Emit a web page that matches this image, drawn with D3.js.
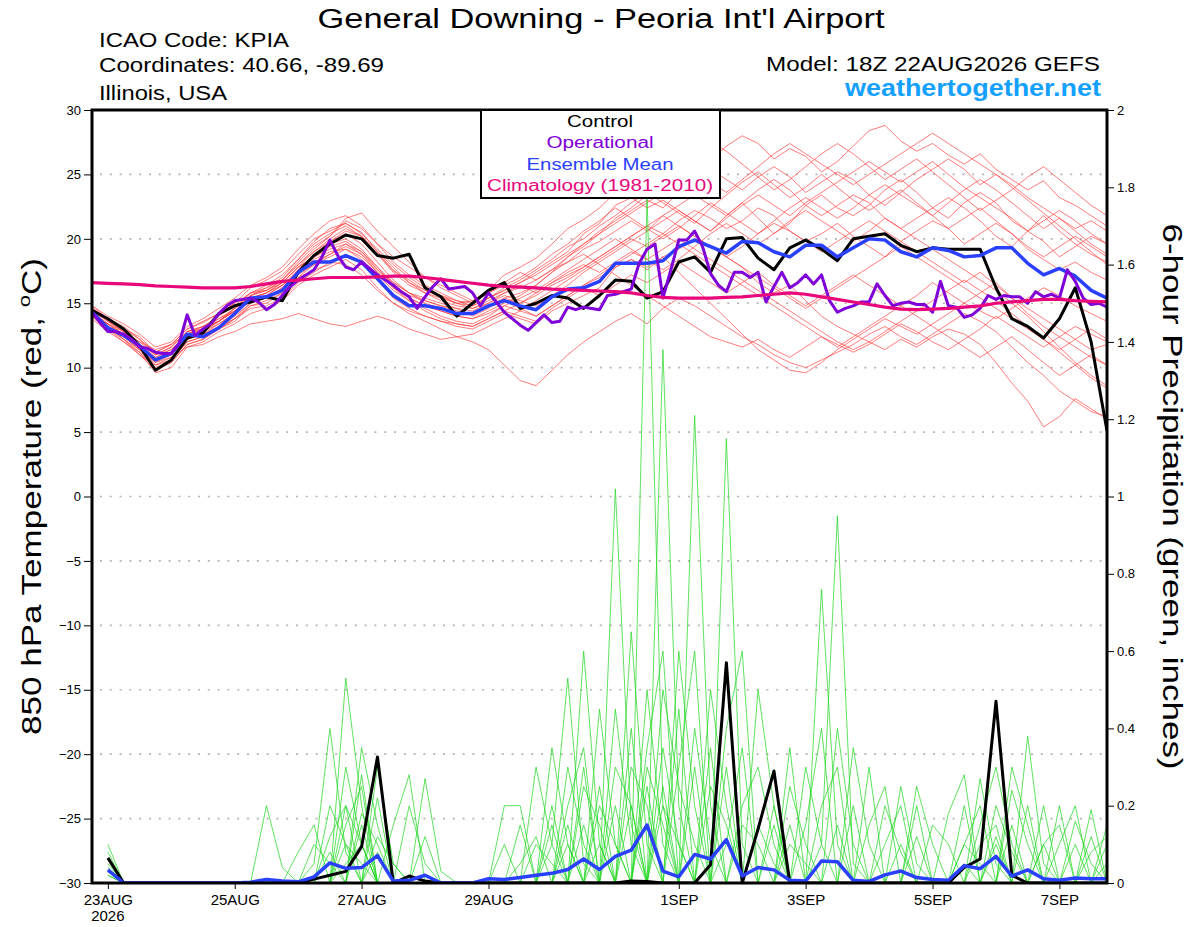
<!DOCTYPE html>
<html>
<head>
<meta charset="utf-8">
<script src="https://cdn.jsdelivr.net/npm/d3@7"></script>
<style>
  body { margin: 0; background: #fff; }
  svg text { font-family: "Liberation Sans", Arial, Helvetica, sans-serif; }
</style>
</head>
<body>
<svg id="chart" width="1200" height="927"></svg>
<script>
// ---- data ----
// run start 18Z 22AUG2026, members every 6 h, operational every 3 h, 384 h total
const runStart = Date.UTC(2026, 7, 22, 18);
const stepHours = 6;
const opStepHours = 3;
const forecastHours = 384;

const tempTicks = [-30, -25, -20, -15, -10, -5, 0, 5, 10, 15, 20, 25, 30];
const precipTicks = [0, 0.2, 0.4, 0.6, 0.8, 1, 1.2, 1.4, 1.6, 1.8, 2];
const dateTicks = ["2026-08-23", "2026-08-25", "2026-08-27", "2026-08-29",
                   "2026-09-01", "2026-09-03", "2026-09-05", "2026-09-07"];

const legendItems = ["Control", "Operational", "Ensemble Mean", "Climatology (1981-2010)"];

// 850 hPa temperature, control (black)
const controlTemp = [
  14.45,13.8,13.0,11.7,9.8,10.6,12.3,12.7,14.2,14.8,15.1,15.5,15.2,
  17.4,18.7,19.6,20.3,20.0,18.7,18.5,18.8,16.2,15.5,14.0,15.0,16.0,
  16.6,14.6,15.0,15.6,15.4,14.6,15.6,16.8,16.7,15.4,15.9,18.2,18.6,
  17.4,20.0,20.1,18.5,17.6,19.3,19.9,19.2,18.3,20.0,20.2,20.4,19.5,
  19.0,19.3,19.2,19.2,19.2,16.2,13.8,13.2,12.3,13.8,16.2,12.0,5.1
];
// ensemble mean (blue)
const meanTemp = [
  14.3,13.1,12.5,11.7,10.6,11.1,12.6,12.4,13.1,14.2,15.4,15.5,16.0,
  17.4,18.2,18.2,18.7,18.2,16.9,15.6,14.8,14.8,14.6,14.2,14.2,14.8,
  15.2,14.8,14.5,15.5,16.1,16.2,16.7,18.1,18.1,18.1,18.3,19.4,19.9,
  19.4,18.9,19.8,19.7,19.0,18.6,19.5,19.5,18.6,19.3,20.0,19.9,19.0,
  18.6,19.3,19.1,18.6,18.7,19.3,19.3,18.1,17.2,17.7,17.1,16.0,15.4
];
// operational (purple), 3-hourly
const operTemp = [
  14.3,13.5,12.8,12.8,12.6,12.2,11.6,11.5,11.2,11.1,11.1,11.9,14.1,
  12.5,13.0,13.4,14.2,14.8,15.2,15.3,15.4,15.1,14.5,14.9,15.6,16.3,
  16.8,17.2,17.6,18.6,19.9,18.7,17.8,17.6,18.2,17.7,17.2,16.8,16.4,
  15.9,15.5,14.6,15.5,16.3,16.9,16.1,16.2,16.3,15.8,14.8,15.8,15.1,
  14.3,13.8,13.3,12.9,13.5,14.1,13.5,13.6,14.7,14.5,14.7,14.6,14.5,
  15.6,15.7,15.9,16.1,18.1,19.2,19.6,15.4,17.6,19.9,19.9,20.6,19.4,
  17.3,16.4,15.9,17.4,17.4,17.0,17.4,15.1,16.3,17.4,16.2,16.6,17.2,
  16.5,17.2,15.2,14.3,14.6,14.8,15.1,15.1,16.5,15.6,14.8,15.0,15.1,
  14.9,14.9,14.3,16.7,14.8,14.7,13.9,14.1,14.6,15.6,15.3,15.6,15.5,
  15.5,15.0,15.9,15.5,15.7,15.4,17.6,16.7,15.4,14.9,15.0,14.7
];
// climatology 1981-2010 (magenta)
const climTemp = [
  16.6,16.55,16.5,16.45,16.35,16.3,16.25,16.2,16.2,16.2,16.3,16.5,16.7,
  16.8,16.9,17.0,17.0,17.0,17.05,17.1,17.1,17.0,16.85,16.7,16.55,16.4,
  16.3,16.25,16.2,16.1,16.05,16.0,15.95,15.9,15.8,15.6,15.45,15.4,15.4,
  15.4,15.45,15.5,15.6,15.7,15.8,15.7,15.5,15.3,15.1,14.9,14.7,14.55,
  14.5,14.55,14.6,14.7,14.8,15.0,15.1,15.2,15.3,15.3,15.2,15.15,15.1
];

// ensemble members, 850 hPa temperature (red)
const tempMembers = [
  [14.6,13.8,13.0,12.4,11.2,11.8,13.0,13.5,14.2,15.0,16.2,16.8,17.5,
   18.8,20.0,20.6,21.2,20.5,19.0,17.5,16.8,16.0,15.5,15.0,15.2,16.0,
   17.2,17.8,18.5,19.6,20.8,21.5,22.4,23.6,24.2,25.0,24.4,25.6,26.8,
   26.0,27.2,28.0,27.4,26.2,27.0,26.4,25.2,26.0,27.2,28.4,28.8,27.6,
   26.8,27.4,26.5,25.8,26.6,25.4,24.6,23.8,24.5,23.2,22.6,21.8,21.0],
  [14.2,13.0,12.2,11.0,9.8,10.4,11.8,12.2,13.0,13.6,14.8,15.0,15.8,
   17.0,17.6,18.0,18.8,18.2,16.8,15.4,14.6,14.0,13.6,13.2,13.0,13.6,
   14.2,13.8,13.4,14.4,15.0,15.6,16.2,17.8,18.4,17.6,18.6,19.2,20.0,
   19.4,18.6,17.8,16.6,15.8,16.4,15.2,14.0,13.2,12.6,12.0,11.4,12.2,
   11.6,12.4,13.0,12.6,11.8,10.4,8.8,7.4,5.4,6.2,7.6,6.8,6.0],
  [14.0,13.4,12.6,11.8,10.8,11.2,12.8,13.2,13.6,14.6,15.6,16.2,16.8,
   18.0,19.2,20.2,21.6,22.0,20.6,19.4,18.2,17.0,16.2,15.6,15.0,15.4,
   16.0,16.6,17.4,18.2,19.0,20.4,21.2,22.6,23.2,22.4,23.0,22.2,21.4,
   20.6,21.8,22.8,21.6,20.4,21.2,22.6,23.4,22.4,21.8,22.6,23.8,24.6,
   23.6,22.4,21.6,22.8,23.6,22.8,21.4,20.6,19.8,18.6,19.4,20.2,19.6],
  [14.4,13.2,12.2,11.2,9.6,10.0,11.6,12.0,12.8,13.4,14.2,14.6,15.2,
   16.4,17.2,17.8,18.4,17.6,16.2,15.0,14.2,13.6,13.0,12.4,12.0,11.4,
   10.2,9.0,8.6,9.8,11.0,12.0,12.8,13.6,14.2,13.4,14.6,15.4,14.8,
   14.0,13.2,12.4,11.8,11.0,10.4,10.0,10.6,11.2,11.8,12.6,13.2,12.4,
   11.8,12.6,13.4,14.2,13.6,12.8,11.6,10.4,9.4,8.2,7.4,6.6,6.2],
  [14.6,13.6,12.8,12.0,11.4,11.8,12.6,13.0,13.8,14.4,15.6,16.0,16.6,
   17.8,18.6,19.4,19.8,19.0,17.6,16.4,15.6,15.2,14.8,14.6,14.0,14.6,
   15.4,15.0,15.8,16.6,17.2,17.8,18.6,19.4,20.2,21.0,20.4,21.4,22.2,
   21.6,20.8,21.4,22.4,21.8,20.6,19.8,20.4,21.2,20.2,19.4,18.6,19.8,
   20.6,21.4,20.8,19.6,20.4,21.2,20.4,19.2,18.4,17.6,18.2,17.4,16.8],
  [13.8,12.8,12.0,11.0,10.2,10.8,12.2,12.6,13.2,13.8,15.0,15.6,16.4,
   17.6,18.8,19.8,20.6,20.2,19.0,17.8,16.6,15.8,15.2,14.8,14.6,15.2,
   15.8,16.2,16.8,17.6,18.2,19.2,19.8,20.6,21.4,20.6,21.8,22.6,23.4,
   22.6,21.8,22.8,23.8,24.6,23.8,22.6,21.8,22.6,23.4,22.8,21.6,20.8,
   21.6,22.4,23.2,22.4,21.4,20.2,19.4,20.6,21.8,20.6,19.6,18.8,18.2],
  [14.2,13.4,12.4,11.6,10.6,11.2,12.4,12.8,13.4,14.2,15.2,15.4,16.2,
   17.2,18.0,18.8,19.6,18.8,17.4,16.2,15.4,14.8,14.4,14.0,13.8,14.2,
   14.8,14.4,14.0,14.8,15.6,16.4,17.0,17.8,18.4,17.8,18.6,17.4,16.2,
   15.0,13.8,12.6,11.4,10.6,9.8,9.6,10.4,11.4,12.2,13.0,13.8,13.2,
   12.6,13.4,14.2,15.0,14.4,13.8,14.6,15.4,16.2,15.6,14.8,14.2,13.6],
  [14.8,14.0,13.4,12.6,11.6,12.0,13.2,13.8,14.6,15.4,16.4,17.0,17.8,
   19.2,20.4,21.4,21.8,21.0,19.6,18.2,17.2,16.4,15.8,15.2,15.0,15.8,
   16.6,17.4,16.8,17.6,18.6,19.6,20.6,21.4,22.2,23.0,22.4,23.6,24.6,
   25.4,24.6,23.8,24.8,25.6,24.8,23.6,24.4,25.2,24.6,23.4,22.6,23.6,
   24.6,25.4,26.2,25.4,24.2,25.0,24.2,23.2,22.4,21.6,20.8,21.4,20.6],
  [14.0,13.0,12.0,11.2,10.0,10.6,12.0,12.4,13.0,13.8,14.6,14.8,15.4,
   16.6,17.4,18.2,18.0,17.2,16.0,15.0,14.4,14.0,13.6,13.4,13.2,13.8,
   14.4,14.0,13.6,14.6,15.4,16.2,15.6,16.4,17.2,16.6,17.4,18.2,17.4,
   16.6,15.8,16.6,17.4,16.4,15.6,14.8,15.6,16.4,17.2,16.4,15.6,14.8,
   15.6,16.6,15.8,15.0,15.8,16.6,15.4,14.2,13.2,12.4,11.6,10.8,10.2],
  [14.4,13.6,12.8,12.0,11.0,11.4,12.6,13.0,13.6,14.6,15.6,16.0,16.8,
   18.0,19.0,19.8,20.4,19.6,18.2,16.8,15.8,15.0,14.6,14.2,14.2,14.8,
   15.4,15.8,16.4,17.4,18.2,18.8,18.0,17.2,16.4,15.6,14.8,14.0,13.2,
   12.4,12.0,11.6,12.2,11.4,10.8,11.6,12.4,11.8,11.2,11.8,12.6,13.4,
   12.8,12.0,11.4,12.2,13.0,14.0,13.2,12.4,11.6,12.4,13.2,12.6,12.0],
  [14.2,13.2,12.6,11.8,11.0,11.6,12.8,13.2,14.0,14.8,15.8,16.4,17.2,
   18.4,19.6,20.4,21.0,20.2,18.8,17.4,16.4,15.8,15.4,15.0,14.8,15.4,
   16.2,16.8,17.6,18.4,19.4,20.0,21.0,21.8,22.8,23.6,22.8,22.0,21.2,
   22.4,23.4,24.4,25.2,24.2,23.2,24.0,25.0,24.0,23.0,22.2,23.0,23.8,
   22.8,21.8,20.8,21.6,22.4,21.4,20.4,19.4,18.6,19.4,20.2,19.4,18.6],
  [14.0,13.0,12.4,11.4,10.4,10.8,11.6,11.8,12.4,12.8,13.4,13.6,13.8,
   14.2,13.8,13.4,13.2,13.6,14.0,13.6,13.0,12.6,12.2,12.4,12.6,13.2,
   13.8,14.4,15.2,16.0,16.8,17.6,18.4,19.2,20.0,19.4,20.2,21.0,20.2,
   19.4,18.6,19.4,20.4,21.2,20.6,19.8,19.0,19.8,20.6,21.4,20.6,19.8,
   19.0,18.2,17.4,16.6,17.4,16.4,15.4,14.6,13.8,13.0,12.2,11.4,11.8],
  [14.6,13.8,13.2,12.2,11.0,11.6,12.8,13.0,13.6,14.4,15.4,15.8,16.6,
   17.8,18.6,19.2,19.6,19.0,17.8,16.6,15.8,15.4,15.0,14.6,14.4,15.0,
   15.6,15.2,14.8,15.6,16.4,17.4,18.2,19.0,19.8,20.6,21.4,22.2,21.4,
   20.6,21.6,22.6,23.4,22.6,21.8,22.8,23.6,24.4,25.2,26.0,25.2,24.4,
   25.2,26.0,25.0,24.0,23.2,22.4,21.6,20.6,21.4,22.2,21.4,20.4,19.6],
  [14.2,13.4,12.8,11.8,10.8,11.4,12.6,13.2,13.8,14.6,15.8,16.2,17.0,
   18.4,19.8,20.8,21.2,20.4,19.2,18.0,17.0,16.2,15.6,15.0,14.6,15.0,
   15.8,16.4,15.8,16.6,17.4,18.0,17.4,18.2,19.0,18.4,19.2,20.0,19.2,
   18.4,17.6,16.8,16.0,15.2,14.4,13.6,12.8,12.0,11.4,12.0,12.8,13.6,
   14.4,15.2,16.0,16.8,16.0,15.2,14.2,13.2,12.2,11.2,10.2,9.2,8.4],
  [14.4,13.4,12.6,11.6,10.2,10.6,12.0,12.4,13.2,14.0,15.0,15.4,16.2,
   17.6,18.8,19.6,20.0,19.2,17.8,16.4,15.4,14.8,14.4,14.0,13.8,14.4,
   15.0,15.6,16.4,17.4,18.6,19.4,20.4,21.6,22.4,23.4,24.4,25.4,26.6,
   27.6,26.8,25.8,24.8,23.8,24.6,25.6,26.6,27.4,26.6,25.6,24.6,25.4,
   26.2,25.2,24.2,23.2,22.2,23.0,23.8,24.8,25.6,24.6,23.6,22.6,21.8],
  [14.0,13.2,12.2,11.4,9.8,10.4,11.8,12.2,13.0,13.8,14.8,15.2,15.8,
   17.0,18.0,18.6,19.2,18.4,17.2,16.0,15.2,14.6,14.0,13.6,13.4,14.0,
   14.8,15.4,16.0,16.8,17.6,18.4,19.2,20.0,19.2,18.4,17.6,18.4,19.4,
   20.4,21.2,20.4,19.6,20.4,21.4,22.2,21.4,20.6,19.8,20.6,21.6,20.8,
   20.0,19.2,18.4,17.6,16.8,16.0,15.0,14.0,12.8,11.6,10.4,9.4,8.6],
  [14.8,13.8,13.0,12.2,11.2,11.8,13.0,13.6,14.2,15.0,15.8,16.0,16.8,
   18.2,19.4,20.2,21.4,20.8,19.6,18.6,17.8,17.0,16.4,15.8,15.2,15.8,
   16.4,17.0,17.8,18.8,19.6,20.6,21.4,22.4,21.6,20.8,20.0,20.8,21.8,
   22.8,22.0,21.2,20.4,21.4,22.4,23.2,22.4,21.6,22.4,23.4,24.2,23.4,
   22.6,21.8,22.8,23.8,24.6,23.8,22.8,21.8,20.8,21.6,20.6,19.6,18.8],
  [14.2,13.0,12.4,11.4,10.6,11.0,12.2,12.6,13.4,14.2,15.2,15.6,16.4,
   17.4,18.2,18.8,19.4,18.8,17.6,16.6,15.8,15.2,14.8,14.4,14.2,14.8,
   15.2,14.6,14.0,14.8,15.6,16.4,17.2,18.0,18.8,19.6,20.4,19.6,18.8,
   18.0,17.2,16.4,15.6,14.8,14.0,13.2,12.4,11.6,12.4,13.2,14.0,14.8,
   14.0,13.2,12.4,11.6,10.8,11.6,12.4,11.4,10.4,9.4,10.2,11.0,10.2],
  [14.6,13.6,12.8,11.8,10.6,11.0,12.4,12.8,13.6,14.4,15.4,15.8,16.6,
   17.8,19.0,20.0,20.8,20.2,18.8,17.6,16.6,16.0,15.6,15.2,14.8,15.4,
   16.0,16.6,17.2,18.0,18.8,19.6,20.4,21.2,22.0,22.8,23.6,24.4,25.2,
   24.4,23.6,24.6,25.6,26.6,27.4,26.6,25.8,25.0,24.2,25.0,25.8,26.6,
   27.4,28.2,27.4,26.6,25.8,25.0,24.0,23.0,22.0,21.0,20.0,19.0,18.0],
  [14.0,13.2,12.4,11.6,10.4,11.0,12.2,12.8,13.6,14.4,15.4,15.8,16.4,
   17.4,18.4,19.0,19.2,18.6,17.4,16.2,15.2,14.4,13.8,13.4,13.2,13.8,
   14.4,15.0,15.6,16.4,17.0,17.8,18.6,19.4,20.2,21.0,21.8,21.0,20.2,
   19.4,18.6,17.8,17.0,16.2,15.4,14.6,15.4,16.2,17.0,17.8,18.6,19.4,
   18.6,17.8,17.0,16.2,15.4,14.6,13.8,13.0,12.2,11.4,12.2,13.0,12.2]
];

// 6-hour precipitation (inches), valid from +6 h to +384 h
const controlPrecip = [
  .065,0,0,0,0,0,0,0,  0,0,0,0,0,.01,.02,.03,
  .094,.326,0,.018,.005,0,0,0,  0,0,0,0,0,0,0,0,
  0,.005,.004,0,0,0,.047,.57,  0,.14,.29,0,0,0,0,0,
  0,0,0,0,0,0,.04,.062,  .47,.02,0,0,0,0,0,0
];
const meanPrecip = [
  .034,0,0,0,0,0,0,0,  0,.002,.009,.005,.003,.016,.052,.038,
  .04,.071,.005,.007,.02,0,0,0,  .011,.009,.014,.02,.025,.035,.062,.035,
  .069,.085,.15,.031,.016,.074,.062,.112,  .018,.04,.034,.007,.005,.057,.055,.007,
  .004,.021,.031,.014,.009,.007,.045,.037,  .069,.018,.034,.011,.007,.013,.011,.011
];
const precipMembers = [
  [.03,0,0,0,0,0,0,0, 0,0,0,0,0,.05,.4,.08, 0,0,0,0,0,0,0,0, 0,0,0,0,.1,.53,.05,0,
   0,0,1.78,.2,0,0,0,0, 0,.15,.05,0,0,0,0,0, 0,0,0,0,0,0,.1,.05, 0,0,0,0,0,0,0,0],
  [.08,0,0,0,0,0,0,0, 0,0,0,0,0,0,0,.53, .2,0,0,0,0,0,0,0, 0,0,.05,.12,0,0,0,0,
   1.02,.15,0,0,0,0,0,.1, .35,0,0,0,0,0,0,0, 0,.2,.08,0,0,0,0,0, .12,0,0,0,0,0,0,0],
  [.05,0,0,0,0,0,0,0, 0,0,.2,.04,0,0,0,0, 0,.3,.05,0,0,0,0,0, 0,0,0,0,0,0,.6,.1,
   0,0,0,0,0,1.21,.2,0, 0,0,0,0,0,.1,.95,.05, 0,0,0,0,0,0,0,0, 0,0,.38,.05,0,0,0,0],
  [.1,0,0,0,0,0,0,0, 0,0,0,0,0,0,0,.15, .25,0,0,0,.27,.03,0,0, 0,0,0,0,0,0,0,0,
   0,.65,.1,0,0,0,0,1.15, .1,0,0,0,0,0,0,0, 0,0,0,.12,0,0,0,.27, .05,0,0,0,0,0,.19,0],
  [.02,0,0,0,0,0,0,0, 0,0,0,0,0,0,.2,.1, 0,0,0,.2,.05,0,0,0, 0,0,0,0,0,.3,.1,0,
   0,0,0,1.38,.2,0,0,0, 0,0,0,.25,.1,0,0,0, 0,0,0,0,0,0,0,0, 0,.24,.1,0,0,0,0,0],
  [.04,0,0,0,0,0,0,0, 0,0,0,0,0,0,0,0, .18,.1,0,0,0,0,0,0, 0,.2,.2,0,0,0,0,.45,
   .1,0,0,0,0,0,.5,.2, 0,0,0,0,0,.76,.1,0, 0,0,0,0,0,0,0,0, 0,0,0,0,0,.16,.05,0],
  [.06,0,0,0,0,0,0,0, 0,0,0,0,0,0,0,.3, .1,0,0,0,0,0,0,0, 0,0,0,.3,.1,0,0,0,
   0,0,.35,.6,0,0,0,0, .2,.3,.1,0,0,0,0,0, 0,0,.25,.05,0,0,0,0, 0,0,0,.1,.15,0,0,0],
  [0,0,0,0,0,0,0,0, 0,0,0,0,0,0,.12,.2, 0,0,0,0,0,0,0,0, 0,0,0,0,.35,.1,0,0,
   0,.3,.2,0,.45,0,0,0, 0,0,.2,0,0,0,0,0, .15,.25,0,0,0,0,0,0, .2,.08,0,0,0,0,0,0],
  [.03,0,0,0,0,0,0,0, 0,0,0,0,0,0,0,0, 0,.22,0,0,0,0,0,0, 0,0,0,0,0,0,.25,.15,
   0,0,0,.5,.25,.1,0,0, 0,0,0,0,.3,.1,0,0, 0,0,0,0,0,.18,.28,0, 0,0,0,0,0,0,0,.1],
  [0,0,0,0,0,0,0,0, 0,0,0,0,.08,.15,0,0, .28,0,0,0,0,0,0,0, 0,0,0,0,0,0,0,0,
   .3,.2,0,0,0,0,.35,0, 0,0,0,.1,.05,0,0,.2, 0,0,0,0,0,0,0,.15, .3,.1,0,0,0,0,0,0],
  [0,0,0,0,0,0,0,0, 0,0,0,0,0,0,0,0, 0,0,.15,.28,0,0,0,0, 0,0,0,0,0,.2,.35,0,
   0,0,0,0,.3,.6,0,0, 0,0,0,0,0,0,.4,.1, 0,0,0,0,0,0,.2,0, 0,0,0,0,.1,.2,0,0],
  [.02,0,0,0,0,0,0,0, 0,0,0,0,0,0,0,.05, .1,0,0,0,0,0,0,0, 0,0,.15,0,0,0,0,.25,
   0,0,.5,.1,0,0,0,.4, .6,0,0,0,0,0,0,0, 0,0,0,.25,.1,0,0,0, 0,0,0,0,0,0,.08,.12],
  [0,0,0,0,0,0,0,0, 0,0,0,0,0,0,0,0, 0,.12,.05,0,0,0,0,0, 0,0,0,0,.2,0,0,0,
   .45,.1,0,0,0,.3,0,0, 0,.5,.2,0,0,0,0,0, 0,.1,.2,0,0,0,0,0, 0,.3,.15,0,0,0,0,0],
  [0,0,0,0,0,0,0,0, 0,0,0,0,0,0,.08,0, 0,0,0,0,.12,0,0,0, 0,0,0,0,0,0,.15,0,
   0,.4,0,.2,.1,0,0,0, 0,0,0,.35,0,0,0,0, 0,0,0,0,.15,.1,0,0, 0,0,0,.2,0,0,0,0],
  [0,0,0,0,0,0,0,0, 0,0,0,0,0,0,0,0, .35,.15,0,0,0,0,0,0, 0,0,0,0,0,.15,0,0,
   0,0,.25,0,0,0,.25,.15, 0,0,0,0,0,.2,.3,0, 0,0,0,0,0,0,.1,.2, 0,0,0,0,0,.1,0,0],
  [0,0,0,0,0,0,0,0, 0,0,0,0,0,.1,.05,0, 0,0,0,0,0,0,0,0, 0,0,0,.1,.05,0,0,.2,
   .1,0,0,0,.6,.2,0,0, 0,0,.15,0,0,0,0,0, .3,0,0,0,0,0,0,0, .1,0,0,0,0,0,0,.05],
  [0,0,0,0,0,0,0,0, 0,0,0,0,0,0,0,.1, .05,0,0,0,0,0,0,0, 0,.1,0,0,0,0,.3,0,
   0,0,.3,.15,0,0,0,0, .15,.1,0,0,0,0,0,.35, .1,0,0,0,0,0,0,0, 0,0,.2,0,0,0,0,0],
  [0,0,0,0,0,0,0,0, 0,0,0,0,0,0,0,0, 0,.08,0,0,0,0,0,0, 0,0,0,0,0,.1,0,0,
   0,.2,0,.35,.1,0,0,0, 0,0,0,0,.15,.4,0,0, 0,0,.1,0,0,0,0,.1, .15,0,0,0,0,0,.12,0],
  [0,0,0,0,0,0,0,0, 0,0,0,0,0,0,0,0, .15,0,0,0,0,0,0,0, 0,0,0,0,.15,0,0,0,
   .2,0,0,0,0,.4,.1,0, 0,0,0,.15,0,0,0,0, 0,0,0,.2,0,0,0,0, 0,.15,0,0,.2,0,0,0],
  [0,0,0,0,0,0,0,0, 0,0,0,0,0,0,0,.2, .1,0,0,0,0,0,0,0, 0,0,0,0,0,0,0,.1,
   0,0,0,.25,0,0,0,.3, 0,0,0,0,0,0,.15,0, 0,0,0,0,0,0,.05,0, 0,0,0,.1,0,0,0,.15]
];

// ---- layout ----
const svg = d3.select("#chart");
const plot = {left: 92, right: 1107, top: 110, bottom: 883};
const hour = 3600 * 1000;

const x = d3.scaleUtc()
  .domain([new Date(runStart), new Date(runStart + forecastHours * hour)])
  .range([plot.left, plot.right]);
const yT = d3.scaleLinear().domain([-30, 30]).range([plot.bottom, plot.top]);
const yP = d3.scaleLinear().domain([0, 2]).range([plot.bottom, plot.top]);

const timeAt = (i, step, offset = 0) => new Date(runStart + (i + offset) * step * hour);

const tempLine = step => d3.line()
  .x((d, i) => x(timeAt(i, step)))
  .y(d => yT(d));
// precip series start at +6h
const precipLine = d3.line()
  .x((d, i) => x(timeAt(i, stepHours, 1)))
  .y(d => yP(d));

svg.append("defs").append("clipPath").attr("id", "plotClip")
  .append("rect")
  .attr("x", plot.left).attr("y", plot.top)
  .attr("width", plot.right - plot.left).attr("height", plot.bottom - plot.top);

// dotted grid lines
svg.append("g").attr("class", "grid")
  .selectAll("line")
  .data(tempTicks.filter(t => t > -30 && t < 30))
  .join("line")
  .attr("x1", plot.left + 8).attr("x2", plot.right)
  .attr("y1", d => yT(d)).attr("y2", d => yT(d))
  .attr("stroke", "#b4b4b4")
  .attr("stroke-width", 1.6)
  .attr("stroke-dasharray", "2,7.8");

const lines = svg.append("g").attr("clip-path", "url(#plotClip)").attr("fill", "none");

lines.selectAll(".tmem")
  .data(tempMembers)
  .join("path")
  .attr("class", "tmem")
  .attr("d", tempLine(stepHours))
  .attr("stroke", "#ff3c3c")
  .attr("stroke-opacity", 0.85)
  .attr("stroke-width", 0.8);

lines.selectAll(".pmem")
  .data(precipMembers)
  .join("path")
  .attr("class", "pmem")
  .attr("d", precipLine)
  .attr("stroke", "#22d622")
  .attr("stroke-opacity", 0.9)
  .attr("stroke-width", 0.8);

lines.append("path").datum(controlTemp)
  .attr("d", tempLine(stepHours))
  .attr("stroke", "#000").attr("stroke-width", 3).attr("stroke-linejoin", "round");
lines.append("path").datum(controlPrecip)
  .attr("d", precipLine)
  .attr("stroke", "#000").attr("stroke-width", 3).attr("stroke-linejoin", "round");

lines.append("path").datum(meanTemp)
  .attr("d", tempLine(stepHours))
  .attr("stroke", "#2a40ff").attr("stroke-width", 3.5).attr("stroke-linejoin", "round");
lines.append("path").datum(meanPrecip)
  .attr("d", precipLine)
  .attr("stroke", "#2a40ff").attr("stroke-width", 3.5).attr("stroke-linejoin", "round");

lines.append("path").datum(operTemp)
  .attr("d", tempLine(opStepHours))
  .attr("stroke", "#8000d8").attr("stroke-width", 3).attr("stroke-linejoin", "round");

lines.append("path").datum(climTemp)
  .attr("d", tempLine(stepHours))
  .attr("stroke", "#e8087c").attr("stroke-width", 3.2).attr("stroke-linejoin", "round");

// ---- axes ----
const leftAxis = svg.append("g")
  .attr("transform", `translate(${plot.left - 1},0)`)
  .call(d3.axisLeft(yT).tickValues(tempTicks).tickSize(7).tickPadding(3));
const rightAxis = svg.append("g")
  .attr("transform", `translate(${plot.right + 1},0)`)
  .call(d3.axisRight(yP).tickValues(precipTicks).tickSize(6).tickPadding(3)
    .tickFormat(d3.format(".1~f")));
const bottomAxis = svg.append("g")
  .attr("transform", `translate(0,${plot.bottom + 1})`)
  .call(d3.axisBottom(x).tickValues(dateTicks.map(d => new Date(d + "T00:00:00Z")))
    .tickSize(5).tickPadding(4)
    .tickFormat(d => d3.utcFormat("%-d%b")(d).toUpperCase()));

[leftAxis, rightAxis, bottomAxis].forEach(a => {
  a.select(".domain").remove();
  a.selectAll("text").attr("fill", "#000")
    .style("font-family", '"Liberation Sans", Arial, sans-serif');
});
leftAxis.selectAll("text").attr("font-size", 13);
rightAxis.selectAll("text").attr("font-size", 13);
bottomAxis.selectAll("text").attr("font-size", 15).attr("dy", "0.78em");

// year under the first date
bottomAxis.append("text")
  .attr("x", x(new Date(dateTicks[0] + "T00:00:00Z")))
  .attr("y", 37)
  .attr("text-anchor", "middle")
  .attr("font-size", 15)
  .attr("fill", "#000")
  .text(dateTicks[0].slice(0, 4));

// frame
svg.append("rect")
  .attr("x", plot.left).attr("y", plot.top)
  .attr("width", plot.right - plot.left).attr("height", plot.bottom - plot.top)
  .attr("fill", "none").attr("stroke", "#000").attr("stroke-width", 3);

// ---- legend ----
const legendColors = ["#000", "#8000d8", "#2a40ff", "#e8087c"];
const legendWidths = [66, 107, 147, 226];
const legend = svg.append("g");
legend.append("rect")
  .attr("x", 481).attr("y", plot.top)
  .attr("width", 239).attr("height", 88)
  .attr("fill", "#fff").attr("stroke", "#000").attr("stroke-width", 2);
legend.selectAll("text")
  .data(legendItems)
  .join("text")
  .attr("x", 600)
  .attr("y", (d, i) => 127 + i * 21.4)
  .attr("text-anchor", "middle")
  .attr("font-size", 16)
  .attr("fill", (d, i) => legendColors[i])
  .attr("textLength", (d, i) => legendWidths[i])
  .attr("lengthAdjust", "spacingAndGlyphs")
  .text(d => d);

// ---- titles ----
function label(txt, xPos, yPos, size, len, opts = {}) {
  return svg.append("text")
    .attr("x", xPos).attr("y", yPos)
    .attr("font-size", size)
    .attr("text-anchor", opts.anchor || "start")
    .attr("font-weight", opts.weight || "normal")
    .attr("fill", opts.color || "#000")
    .attr("textLength", len)
    .attr("lengthAdjust", "spacingAndGlyphs")
    .text(txt);
}

label("General Downing - Peoria Int'l Airport", 601, 28, 27, 567, {anchor: "middle"});
label("ICAO Code: KPIA", 99, 47, 21, 190);
label("Coordinates: 40.66, -89.69", 99, 72, 21, 285);
label("Illinois, USA", 99, 100, 21, 128);
label("Model: 18Z 22AUG2026 GEFS", 1100, 71, 21, 334, {anchor: "end"});
label("weathertogether.net", 1101, 96, 23, 256, {anchor: "end", weight: "bold", color: "#14a0ff"});

// rotated axis titles
const leftTitle = svg.append("text")
  .attr("transform", `translate(41,${(plot.top + plot.bottom) / 2}) rotate(-90)`)
  .attr("text-anchor", "middle")
  .attr("font-size", 27)
  .attr("textLength", 477)
  .attr("lengthAdjust", "spacingAndGlyphs");
leftTitle.append("tspan").text("850 hPa Temperature (red, ");
leftTitle.append("tspan").attr("font-size", 17).attr("dy", -11).text("o");
leftTitle.append("tspan").attr("dy", 11).text("C)");

svg.append("text")
  .attr("transform", `translate(1163,${(plot.top + plot.bottom) / 2}) rotate(90)`)
  .attr("text-anchor", "middle")
  .attr("font-size", 27)
  .attr("textLength", 546)
  .attr("lengthAdjust", "spacingAndGlyphs")
  .text("6-hour Precipitation (green, inches)");
</script>
</body>
</html>
